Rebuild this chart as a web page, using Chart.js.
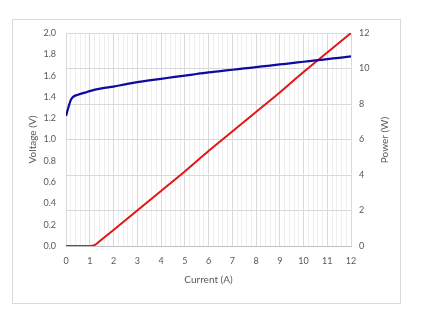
<!DOCTYPE html>
<html><head><meta charset="utf-8">
<script src="https://cdn.jsdelivr.net/npm/chart.js@4.4.1/dist/chart.umd.min.js"></script>
<style>html,body{margin:0;padding:0;background:#fff;}#wrap{position:absolute;left:0;top:0;width:422px;height:319px;}</style>
</head><body><div id="wrap"><canvas id="c" width="422" height="319"></canvas></div>
<script>
const currentA = [0,0.1,0.2,0.3,0.5,0.8,1,1.5,2,2.5,3,3.5,4,4.5,5,5.5,6,6.5,7,7.5,8,8.5,9,9.5,10,10.5,11,11.5,12];
const voltageV = [1.22,1.30,1.37,1.40,1.42,1.44,1.455,1.48,1.497,1.518,1.538,1.555,1.57,1.585,1.60,1.615,1.63,1.642,1.655,1.667,1.68,1.692,1.705,1.717,1.73,1.742,1.755,1.767,1.78];
const powerCurrentA = [0,0.5,1,1.1,1.2,1.3,1.4,2,3,4,5,6,7,8,9,10,11,12];
const powerW = [0,0,0,0.01,0.05,0.14,0.25,0.9,2.0,3.1,4.2,5.35,6.45,7.55,8.65,9.8,10.9,12];
const xTickLabels = [0,1,2,3,4,5,6,7,8,9,10,11,12];
const voltTicks = [0,0.2,0.4,0.6,0.8,1.0,1.2,1.4,1.6,1.8,2.0];
const powerTicks = [0,2,4,6,8,10,12];

const F = "Lato, 'Open Sans', sans-serif";
const txt = '#595959';
const minorPer = 5;

const frame = {
  id:'frame',
  beforeDraw(ch){const c=ch.ctx;c.save();c.fillStyle='#fff';c.fillRect(0,0,ch.width,ch.height);
    c.strokeStyle='#d9d9d9';c.lineWidth=1;c.strokeRect(12.5,19.5,388,284);c.restore();},
  afterDraw(ch){const c=ch.ctx;c.save();c.fillStyle=txt;c.font="10px "+F;c.textAlign='center';c.textBaseline='middle';
    c.translate(385,140);c.rotate(-Math.PI/2);c.fillText('Power (W)',0,0);c.restore();}
};

new Chart(document.getElementById('c'),{
  type:'line',
  data:{datasets:[
    {label:'Voltage',data:currentA.map((x,i)=>({x,y:voltageV[i]})),yAxisID:'y',borderColor:'#0c0ca0',borderWidth:2.25,pointRadius:0,cubicInterpolationMode:'monotone'},
    {label:'Power',data:powerCurrentA.map((x,i)=>({x,y:powerW[i]})),yAxisID:'y1',borderColor:'#e31515',borderWidth:2,pointRadius:0,cubicInterpolationMode:'monotone'}
  ]},
  options:{
    responsive:false,animation:false,
    layout:{padding:{left:13,right:22,top:33,bottom:16}},
    plugins:{legend:{display:false},tooltip:{enabled:false}},
    scales:{
      x:{type:'linear',min:0,max:12,
        afterBuildTicks(s){const t=[];for(let i=0;i<xTickLabels.length;i++){t.push({value:xTickLabels[i],major:true});if(i<xTickLabels.length-1){for(let k=1;k<minorPer;k++){t.push({value:xTickLabels[i]+k/minorPer});}}}s.ticks=t;},
        afterFit(s){s.height=57;},
        ticks:{autoSkip:false,maxRotation:0,padding:10,color:txt,font:{family:F,size:9},callback:(v)=>xTickLabels.includes(v)?String(v):''},
        grid:{drawTicks:false,color:(c)=>(c.tick&&xTickLabels.includes(c.tick.value))?'#d9d9d9':'#efefef',lineWidth:1},
        border:{color:'#bfbfbf'},
        title:{display:true,text:'Current (A)',color:txt,font:{family:F,size:10},padding:{top:0,bottom:17}}
      },
      y:{position:'left',min:0,max:2,
        afterBuildTicks(s){s.ticks=voltTicks.map(v=>({value:v}));},
        afterFit(s){s.width=53;},
        ticks:{padding:10,color:txt,font:{family:F,size:9},callback:(v)=>v.toFixed(1)},
        grid:{drawOnChartArea:false,drawTicks:false},
        border:{color:'#d9d9d9'},
        title:{display:true,text:'Voltage (V)',color:txt,font:{family:F,size:10},padding:{top:14,bottom:0}}
      },
      y1:{position:'right',min:0,max:12,
        afterBuildTicks(s){s.ticks=powerTicks.map(v=>({value:v}));},
        afterFit(s){s.width=49;},
        ticks:{padding:8,color:txt,font:{family:F,size:9}},
        grid:{drawTicks:false,color:'#d9d9d9'},
        border:{display:false}
      }
    }
  },
  plugins:[frame]
});
</script></body></html>
